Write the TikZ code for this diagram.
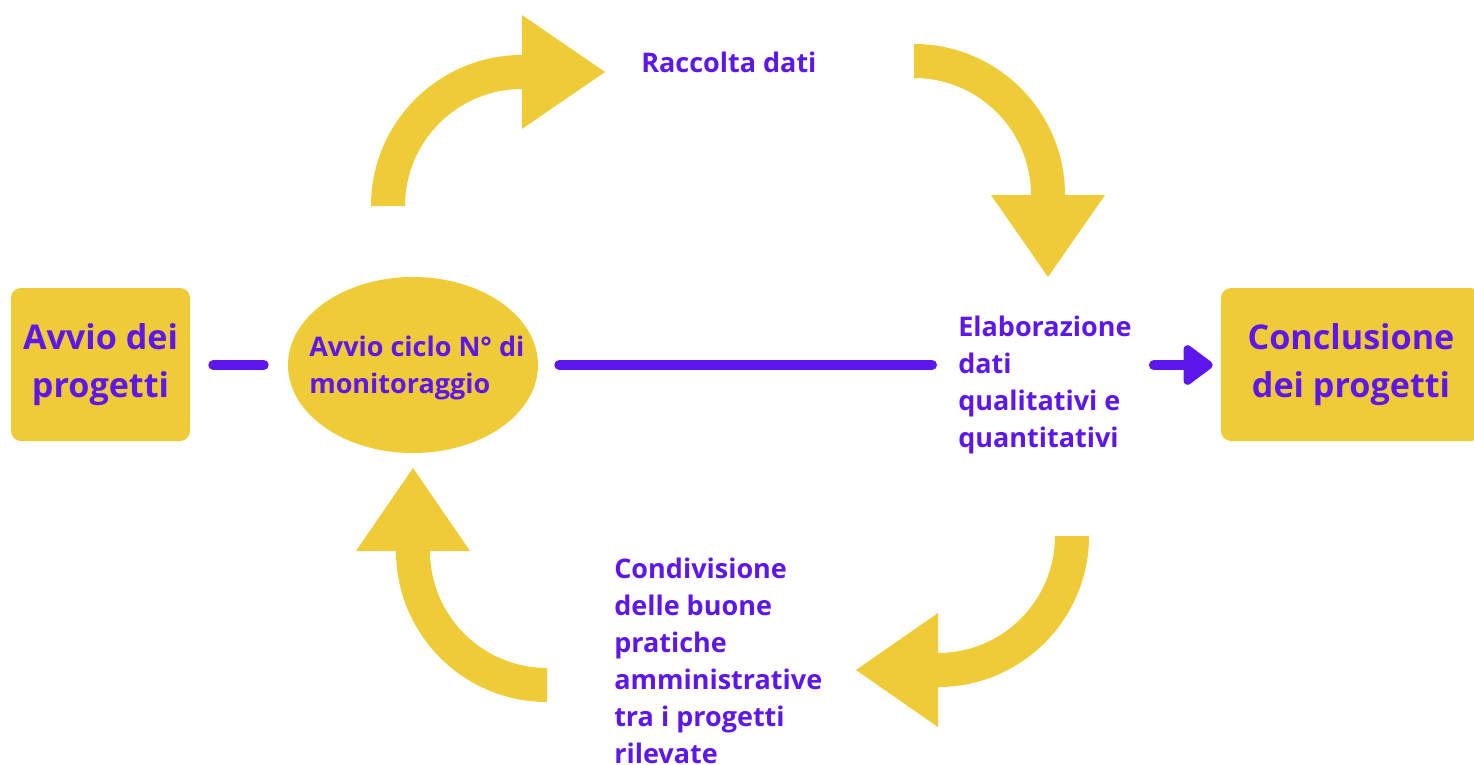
\documentclass[tikz,border=0pt]{standalone}
\usepackage{fontspec}
\setmainfont{Open Sans}
\usetikzlibrary{positioning, arrows.meta, shapes.geometric}

\definecolor{yel}{HTML}{EFCB37}
\definecolor{pur}{HTML}{5E17EB}

\begin{document}
\begin{tikzpicture}[
    x=0.75pt, y=-0.75pt,
    block/.style={rectangle, fill=yel, minimum width=#1, minimum height=114.75pt, rounded corners=7.5pt, text=pur, align=center, font=\fontsize{25.6}{36.5}\selectfont\bfseries},
    label/.style={anchor=north west, inner sep=0pt, text=pur, align=left, font=\fontsize{20.25}{27.75}\selectfont\bfseries},
    link/.style={draw=pur, line width=7.5pt, line cap=round},
    arrow/.style={link, -{Triangle[length=24pt, width=34pt, round]}},
    curve/.style={fill=yel},
]

% Page size
\useasboundingbox (0, 0) rectangle (1474, 764);
\clip (0, 0) rectangle (1474, 764);

% Start and end boxes
\node[block=134.25pt] (start) at (100.5, 364.5) {Avvio dei\\progetti};
\node[block=195pt] (conc) at (1351, 364.5) {Conclusione\\dei progetti};

% Monitoring cycle
\node[ellipse, fill=yel, minimum width=187.5pt, minimum height=132pt, inner sep=0pt] (cyc) at (413, 365) {};
\node[label] (cyctxt) at (309, 335.5) {Avvio ciclo N° di\\monitoraggio};

% Step labels
\node[label] (racc) at (641, 51.5) {Raccolta dati};
\node[label] (elab) at (958, 315.5) {Elaborazione\\dati\\qualitativi e\\quantitativi};
\node[label] (cond) at (614, 557.5) {Condivisione\\delle buone\\pratiche\\amministrative\\tra i progetti\\rilevate};

% Horizontal flow
\draw[link, shorten <=17.25pt, shorten >=18pt] (start.east |- cyc.west) -- (cyc.west);
\draw[link, shorten <=15.75pt, shorten >=19.5pt] (cyc.east) -- (cyc.east -| elab.west);
\draw[arrow, shorten <=16.5pt, shorten >=6pt] (elab.east |- cyc.east) -- (conc.west |- cyc.east);

% Curved cycle arrows (clockwise)
\fill[curve] (371, 206) arc[start angle=180, end angle=270, radius=151] -- (522, 15) -- (605, 72) -- (522, 129) -- (522, 89) arc[start angle=270, end angle=180, radius=117] -- cycle;
\fill[curve] (914, 44) arc[start angle=270, end angle=360, radius=151] -- (1105, 195) -- (1048, 277) -- (991, 195) -- (1031, 195) arc[start angle=0, end angle=-90, radius=117] -- cycle;
\fill[curve] (1089, 536) arc[start angle=0, end angle=90, radius=151] -- (938, 727) -- (856, 670) -- (938, 613) -- (938, 653) arc[start angle=90, end angle=0, radius=117] -- cycle;
\fill[curve] (547, 702) arc[start angle=90, end angle=180, radius=151] -- (356, 551) -- (413, 468) -- (470, 551) -- (430, 551) arc[start angle=180, end angle=90, radius=117] -- cycle;

\end{tikzpicture}
\end{document}
